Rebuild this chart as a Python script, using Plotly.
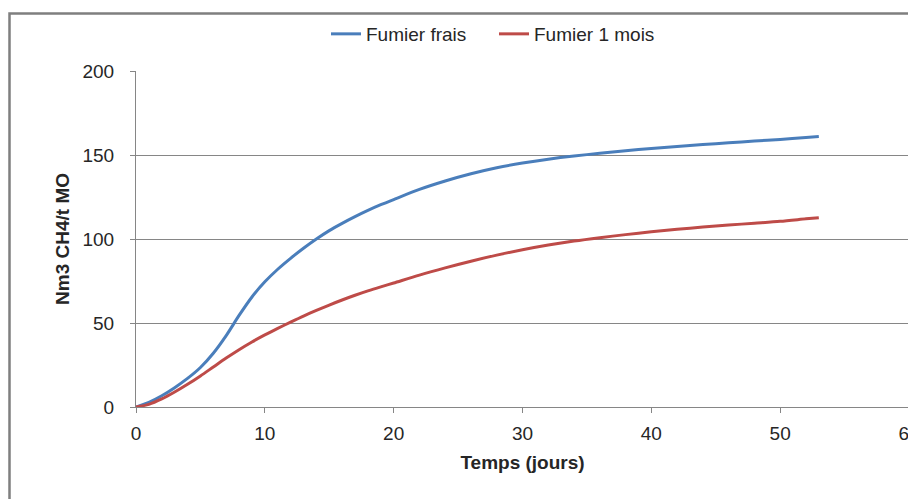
import plotly.graph_objects as go

days = [0, 1, 2, 3, 4, 5, 6, 7, 8, 9, 10, 11, 12, 13, 14, 15, 16, 17, 18, 19, 20,
        22, 24, 26, 28, 30, 32, 34, 36, 38, 40, 42, 44, 46, 48, 50, 52, 53]
fumier_frais = [0, 2.8, 6.7, 11.5, 17, 23.5, 32, 42.5, 54.5, 65.5, 74.5, 82, 88.5, 94.5, 100, 105, 109.3, 113.3, 117, 120.4, 123.5,
                129.5, 134.5, 138.8, 142.4, 145.2, 147.5, 149.4, 151, 152.5, 153.9, 155.1, 156.2, 157.3, 158.3, 159.3, 160.4, 161]
fumier_1_mois = [0, 1.6, 4.8, 8.9, 13.5, 18.5, 23.8, 29.1, 34.1, 38.7, 42.9, 46.8, 50.5, 54.1, 57.5, 60.7, 63.7, 66.5, 69.1, 71.5, 73.8,
                 78.5, 82.8, 86.8, 90.4, 93.6, 96.4, 98.8, 100.8, 102.6, 104.3, 105.8, 107.1, 108.3, 109.4, 110.5, 112, 112.7]

series_names = ["Fumier frais", "Fumier 1 mois"]
x_ticks = [0, 10, 20, 30, 40, 50, 60]
y_ticks = [0, 50, 100, 150, 200]

FONT = "Liberation Sans, Arial, sans-serif"
GRID = "#868686"
TXT = "#262626"

fig = go.Figure()
fig.add_trace(go.Scatter(x=days, y=fumier_frais, name=series_names[0], mode="lines",
                         line=dict(color="#4A7EBB", width=3, shape="spline", smoothing=0.8)))
fig.add_trace(go.Scatter(x=days, y=fumier_1_mois, name=series_names[1], mode="lines",
                         line=dict(color="#BE4B48", width=3, shape="spline", smoothing=0.8)))

# the page body has an 8px default margin: offsets below compensate
fig.update_layout(
    width=916, height=499,
    margin=dict(l=128, r=15, t=63, b=100),
    paper_bgcolor="white", plot_bgcolor="white",
    font=dict(family=FONT, size=19, color=TXT),
    showlegend=True,
    legend=dict(orientation="h", x=318 / 916, xref="container", y=1 - 26 / 499, yref="container",
                xanchor="left", yanchor="middle", font=dict(size=19, family=FONT, color=TXT),
                bgcolor="rgba(0,0,0,0)", entrywidth=123, entrywidthmode="pixels"),
    xaxis=dict(range=[0, 60], tickvals=x_ticks, showgrid=False, zeroline=False,
               showline=True, linecolor=GRID, linewidth=1, automargin=False,
               ticks="outside", ticklen=5, tickcolor=GRID, ticklabelstandoff=4,
               title=dict(text="<b>Temps (jours)</b>", font=dict(size=19, family=FONT, color=TXT), standoff=12)),
    yaxis=dict(range=[0, 200], tickvals=y_ticks, showgrid=True, gridcolor=GRID, gridwidth=1,
               zeroline=False, showline=True, linecolor=GRID, linewidth=1, automargin=False,
               ticks="outside", ticklen=5, tickcolor=GRID, ticklabelstandoff=12,
               title=dict(text="<b>Nm3 CH4/t MO</b>", font=dict(size=19, family=FONT, color=TXT), standoff=7)),
    shapes=[dict(type="rect", xref="paper", yref="paper",
                 x0=(9.5 - 136) / 773, x1=1.2, y0=-0.5, y1=(407 - 13.5) / 336,
                 line=dict(color="#7F7F7F", width=2.5), fillcolor="rgba(0,0,0,0)", layer="below")],
)

fig.write_html("out.html")
